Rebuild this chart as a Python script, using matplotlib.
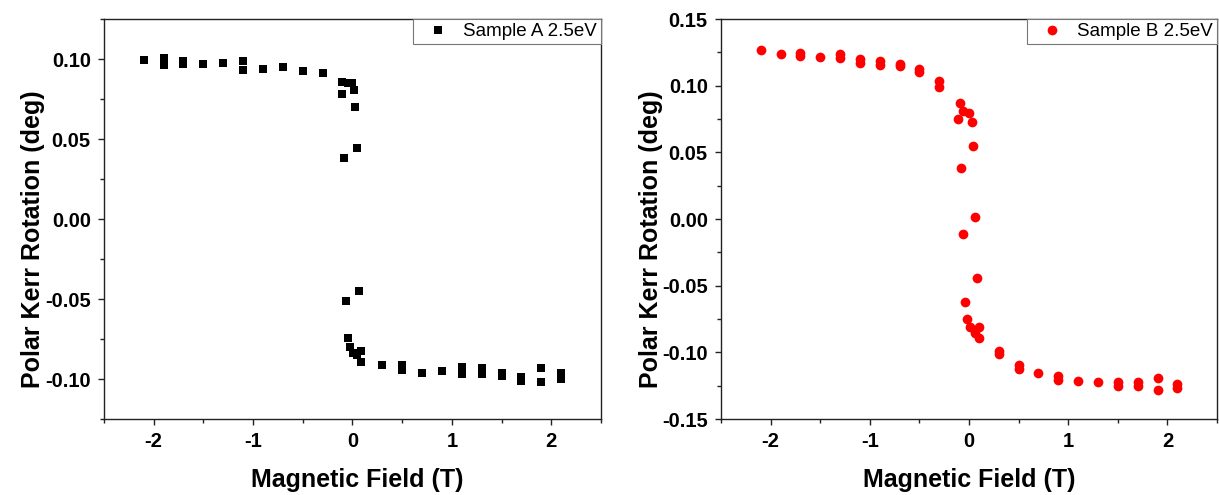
import numpy as np
import matplotlib
matplotlib.use("Agg")
import matplotlib.pyplot as plt
from matplotlib.ticker import MultipleLocator, FormatStrFormatter

# =============================================================================
# DATA
# =============================================================================
# Sample A, upper branch (negative field side + near zero)
a_up_field = [-2.1, -1.9, -1.9, -1.7, -1.7, -1.5, -1.3, -1.1, -1.1, -0.9, -0.7,
              -0.5, -0.3, -0.11, -0.04, 0.0, 0.015, -0.11, 0.03, 0.05, -0.09]
a_up_rot = [0.0994, 0.1006, 0.0960, 0.0990, 0.0970, 0.0970, 0.0973, 0.0987,
            0.0931, 0.0939, 0.0952, 0.0925, 0.0914, 0.0858, 0.0848, 0.0852,
            0.0806, 0.0781, 0.0700, 0.0442, 0.0380]
# Sample A, lower branch (near zero + positive field side)
a_dn_field = [-0.07, 0.07, -0.05, -0.025, 0.008, 0.05, 0.09, 0.09,
              0.3, 0.5, 0.5, 0.7, 0.9, 1.1, 1.1, 1.3, 1.3, 1.5, 1.5,
              1.7, 1.7, 1.9, 1.9, 2.1, 2.1]
a_dn_rot = [-0.0511, -0.0450, -0.0742, -0.0798, -0.0840, -0.0850, -0.0825,
            -0.0896, -0.0913, -0.0912, -0.0942, -0.0965, -0.0948, -0.0925,
            -0.0970, -0.0930, -0.0970, -0.0960, -0.0980, -0.0990, -0.1010,
            -0.0933, -0.1019, -0.0960, -0.1000]

# Sample B, upper branch
b_up_field = [-2.1, -1.9, -1.7, -1.7, -1.5, -1.3, -1.3, -1.1, -1.1, -0.9, -0.9,
              -0.7, -0.7, -0.5, -0.5, -0.3, -0.3, -0.09, -0.11, -0.06, 0.0,
              0.03, 0.04, -0.08, 0.06]
b_up_rot = [0.1267, 0.1240, 0.1245, 0.1220, 0.1213, 0.1235, 0.1210, 0.1200,
            0.1168, 0.1185, 0.1155, 0.1165, 0.1148, 0.1125, 0.1100, 0.1037,
            0.0992, 0.0868, 0.0748, 0.0812, 0.0793, 0.0730, 0.0545, 0.0380,
            0.0013]
# Sample B, lower branch
b_dn_field = [-0.06, 0.08, -0.04, -0.02, 0.01, 0.1, 0.06, 0.1,
              0.3, 0.3, 0.5, 0.5, 0.7, 0.9, 0.9, 1.1, 1.3, 1.5, 1.5,
              1.7, 1.7, 1.9, 1.9, 2.1, 2.1]
b_dn_rot = [-0.0113, -0.0443, -0.0623, -0.0750, -0.0808, -0.0812, -0.0858,
            -0.0890, -0.0990, -0.1015, -0.1095, -0.1125, -0.1153, -0.1180,
            -0.1210, -0.1213, -0.1220, -0.1225, -0.1250, -0.1225, -0.1250,
            -0.1190, -0.1283, -0.1235, -0.1270]

LABEL_A = "Sample A 2.5eV"
LABEL_B = "Sample B 2.5eV"
XLABEL = "Magnetic Field (T)"
YLABEL = "Polar Kerr Rotation (deg)"

# =============================================================================
# STYLE
# =============================================================================
plt.rcParams['font.family'] = ['Liberation Sans', 'DejaVu Sans']
plt.rcParams['axes.unicode_minus'] = False


def style_axes(ax, ylim, ymajor, xlab_x=0.5):
    ax.set_xlim(-2.5, 2.5)
    ax.set_ylim(*ylim)
    ax.xaxis.set_major_locator(MultipleLocator(1))
    ax.xaxis.set_minor_locator(MultipleLocator(0.5))
    ax.yaxis.set_major_locator(MultipleLocator(ymajor))
    ax.yaxis.set_minor_locator(MultipleLocator(ymajor / 2))
    ax.yaxis.set_major_formatter(FormatStrFormatter('%.2f'))
    ax.tick_params(which='both', direction='out', width=1.0, color='#222222')
    ax.tick_params(which='major', length=4.5, pad=5, labelsize=14.5)
    ax.tick_params(which='minor', length=3)
    for lab in ax.get_xticklabels() + ax.get_yticklabels():
        lab.set_fontweight('bold')
    for sp in ax.spines.values():
        sp.set_linewidth(1.0)
        sp.set_color('#222222')
    ax.set_xlabel(XLABEL, fontsize=18, fontweight='bold')
    ax.set_ylabel(YLABEL, fontsize=18, fontweight='bold')
    ax.xaxis.set_label_coords(xlab_x, -0.122)
    ax.yaxis.set_label_coords(-0.118, 0.45)
    leg = ax.legend(loc='upper right', borderaxespad=0, fancybox=False,
                    fontsize=13.5, handlelength=2.2, handletextpad=0.25,
                    borderpad=0.22, framealpha=1)
    leg.get_frame().set_edgecolor('#777777')
    leg.get_frame().set_linewidth(0.8)


fig = plt.figure(figsize=(12.19, 4.95), dpi=100)
ax1 = fig.add_axes([0.0853, 0.1535, 0.4077, 0.808])
ax2 = fig.add_axes([0.5915, 0.1535, 0.4069, 0.808])

ax1.plot(a_up_field + a_dn_field, a_up_rot + a_dn_rot, 's', color='black',
         markersize=6.2, markeredgewidth=0, label=LABEL_A)
style_axes(ax1, (-0.125, 0.125), 0.05, xlab_x=0.51)

ax2.plot(b_up_field + b_dn_field, b_up_rot + b_dn_rot, 'o', color='red',
         markersize=7, markeredgewidth=0, label=LABEL_B)
style_axes(ax2, (-0.15, 0.15), 0.05)

fig.savefig("out.png", dpi=100)
